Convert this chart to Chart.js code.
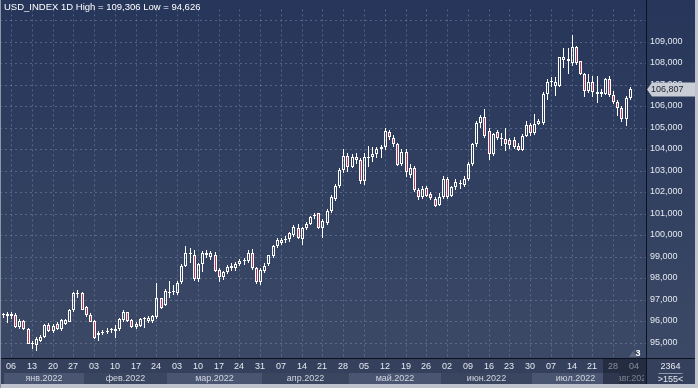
<!DOCTYPE html>
<html>
<head>
<meta charset="utf-8">
<script src="https://cdn.jsdelivr.net/npm/chart.js@4.4.1/dist/chart.umd.min.js"></script>
<style>
  html, body { margin: 0; padding: 0; background: #2f3c58; }
  #wrap { width: 698px; height: 388px; }
</style>
</head>
<body>
<div id="wrap"><canvas id="chart" width="698" height="388"></canvas></div>
<script>
// Trading days shown on the time axis (last three slots are still empty)
const dates = [
  '04.01', '05.01', '06.01', '07.01', '10.01', '11.01', '12.01', '13.01', '14.01', '17.01',
  '18.01', '19.01', '20.01', '21.01', '24.01', '25.01', '26.01', '27.01', '28.01', '31.01',
  '01.02', '02.02', '03.02', '04.02', '07.02', '08.02', '09.02', '10.02', '11.02', '14.02',
  '15.02', '16.02', '17.02', '18.02', '21.02', '22.02', '23.02', '24.02', '25.02', '28.02',
  '01.03', '02.03', '03.03', '04.03', '07.03', '08.03', '09.03', '10.03', '11.03', '14.03',
  '15.03', '16.03', '17.03', '18.03', '21.03', '22.03', '23.03', '24.03', '25.03', '28.03',
  '29.03', '30.03', '31.03',
  '01.04', '04.04', '05.04', '06.04', '07.04', '08.04', '11.04', '12.04', '13.04', '14.04',
  '15.04', '18.04', '19.04', '20.04', '21.04', '22.04', '25.04', '26.04', '27.04', '28.04', '29.04',
  '02.05', '03.05', '04.05', '05.05', '06.05', '09.05', '10.05', '11.05', '12.05', '13.05',
  '16.05', '17.05', '18.05', '19.05', '20.05', '23.05', '24.05', '25.05', '26.05', '27.05',
  '30.05', '31.05',
  '01.06', '02.06', '03.06', '06.06', '07.06', '08.06', '09.06', '10.06', '13.06', '14.06',
  '15.06', '16.06', '17.06', '20.06', '21.06', '22.06', '23.06', '24.06', '27.06', '28.06',
  '29.06', '30.06',
  '01.07', '04.07', '05.07', '06.07', '07.07', '08.07', '11.07', '12.07', '13.07', '14.07',
  '15.07', '18.07', '19.07', '20.07', '21.07', '22.07', '25.07', '26.07', '27.07', '28.07', '29.07',
  '01.08', '02.08', '03.08', '04.08', '05.08', '08.08'
]

const monthNames = ['янв.2022', 'фев.2022', 'мар.2022', 'апр.2022', 'май.2022', 'июн.2022', 'июл.2022', 'авг.2022']

const opens = [
  96.28, 96.24, 96.22, 96.31, 95.74, 96.00, 95.66, 94.97, 94.88, 95.10, 95.28, 95.81, 95.56, 95.86, 95.63, 95.86, 95.98, 96.51, 97.25, 97.29,
  96.64, 96.31, 96.00, 95.36, 95.45, 95.50, 95.58, 95.56, 95.66, 96.04, 96.42, 96.04, 95.71, 95.78, 96.08, 96.00, 96.00, 96.19, 97.06, 96.77,
  97.30, 97.35, 97.29, 97.82, 98.58, 99.18, 99.10, 97.97, 98.65, 99.10, 99.00, 99.10, 98.40, 98.05, 98.30, 98.45, 98.45, 98.65, 98.78, 98.80, 99.18, 98.45, 97.82,
  98.35, 98.65, 99.03, 99.48, 99.63, 99.78, 99.80, 100.00, 100.31, 99.81, 100.31, 100.54, 100.88, 101.02, 100.34, 100.57, 101.14, 101.70, 102.27, 103.03, 103.70,
  103.18, 103.63, 103.50, 102.50, 103.60, 103.63, 103.78, 104.00, 104.08, 104.80, 104.53, 104.26, 103.30, 103.85, 102.80, 103.10, 102.12, 101.77, 102.20, 101.89, 101.67, 101.41,
  101.77, 102.62, 101.82, 102.22, 102.40, 102.35, 102.62, 103.33, 104.24, 105.21, 105.50, 104.85, 103.78, 104.80, 104.48, 104.46, 104.42, 104.42, 104.16, 103.98, 104.61, 105.14,
  104.73, 105.18, 105.21, 106.57, 107.10, 106.95, 106.95, 108.15, 108.08, 108.00, 108.73, 108.08, 107.50, 106.72, 107.10, 106.57, 106.57, 106.57, 107.25, 106.50, 106.20,
  105.90, 105.40, 106.38
]

const highs = [
  96.40, 96.42, 96.45, 96.36, 96.10, 96.05, 95.70, 95.10, 95.25, 95.35, 95.85, 95.90, 95.85, 95.95, 96.10, 96.10, 96.55, 97.35, 97.45, 97.35,
  96.70, 96.40, 96.05, 95.55, 95.60, 95.70, 95.70, 95.80, 96.15, 96.50, 96.45, 96.10, 95.95, 96.15, 96.20, 96.25, 96.30, 97.79, 97.10, 97.50,
  97.85, 97.70, 97.85, 98.68, 99.48, 99.40, 99.30, 98.70, 99.25, 99.30, 99.25, 99.20, 98.45, 98.35, 98.60, 98.70, 98.75, 98.90, 98.95, 99.30, 99.35, 98.50, 98.45,
  98.70, 99.10, 99.55, 99.85, 99.85, 99.95, 100.15, 100.45, 100.50, 100.40, 100.60, 100.90, 101.05, 101.05, 100.75, 101.20, 101.85, 102.40, 103.10, 104.00, 103.80,
  103.75, 103.80, 103.60, 103.80, 104.16, 104.08, 104.10, 104.20, 104.99, 104.90, 104.65, 104.30, 104.00, 104.00, 103.30, 103.20, 102.20, 102.30, 102.30, 102.00, 101.75, 101.95,
  102.75, 102.70, 102.30, 102.60, 102.55, 102.75, 103.40, 104.30, 105.30, 105.60, 105.85, 105.00, 104.75, 104.90, 104.73, 104.99, 104.50, 104.55, 104.30, 104.70, 105.30, 105.20,
  105.64, 105.40, 106.65, 107.25, 107.33, 107.35, 108.30, 108.69, 108.70, 109.306, 108.80, 108.10, 107.55, 107.48, 107.40, 107.40, 106.80, 107.30, 107.40, 106.70, 106.30,
  106.00, 106.45, 106.90
]

const lows = [
  96.15, 95.93, 96.10, 95.68, 95.65, 95.60, 94.92, 94.70, 94.626, 95.05, 95.20, 95.50, 95.45, 95.60, 95.55, 95.80, 95.95, 96.45, 97.10, 96.50,
  96.20, 95.95, 95.15, 95.10, 95.35, 95.40, 95.45, 95.20, 95.55, 95.95, 95.95, 95.70, 95.65, 95.75, 95.70, 95.90, 95.90, 96.10, 96.55, 96.70,
  97.10, 97.20, 97.20, 97.75, 98.50, 98.70, 97.85, 97.82, 98.30, 98.95, 98.85, 98.30, 97.82, 97.90, 98.20, 98.35, 98.35, 98.55, 98.60, 98.70, 98.40, 97.75, 97.70,
  98.25, 98.55, 98.95, 99.40, 99.55, 99.65, 99.70, 99.90, 99.80, 99.55, 100.25, 100.45, 100.75, 100.30, 99.86, 100.45, 101.05, 101.60, 102.20, 102.90, 102.95,
  103.10, 103.30, 102.40, 102.35, 103.18, 103.40, 103.60, 103.60, 103.95, 104.40, 104.10, 103.20, 103.20, 102.70, 102.65, 102.00, 101.65, 101.70, 101.75, 101.65, 101.30, 101.35,
  101.70, 101.70, 101.75, 102.10, 102.15, 102.25, 102.50, 103.20, 104.10, 105.00, 104.50, 103.50, 103.70, 104.40, 104.16, 103.93, 104.00, 104.00, 103.90, 103.90, 104.55, 104.60,
  104.65, 105.10, 105.10, 106.27, 106.87, 106.45, 106.90, 107.78, 107.48, 107.86, 107.90, 107.45, 106.42, 106.60, 106.42, 106.12, 106.42, 106.50, 106.40, 106.10, 105.52,
  105.24, 105.06, 106.30
]

const closes = [
  96.30, 96.32, 96.33, 95.71, 96.01, 95.63, 94.95, 94.93, 95.18, 95.28, 95.81, 95.56, 95.77, 95.66, 96.04, 96.04, 96.51, 97.29, 97.29, 96.54,
  96.28, 95.98, 95.23, 95.45, 95.50, 95.56, 95.62, 95.66, 96.09, 96.42, 96.00, 95.74, 95.86, 96.10, 96.12, 96.13, 96.24, 97.06, 96.61, 97.40,
  97.35, 97.40, 97.77, 98.58, 99.18, 99.12, 97.97, 98.65, 99.15, 99.15, 99.18, 98.35, 98.05, 98.27, 98.50, 98.55, 98.65, 98.80, 98.82, 99.18, 98.45, 97.82, 98.40,
  98.58, 99.06, 99.51, 99.78, 99.78, 99.80, 100.08, 100.39, 99.86, 100.34, 100.54, 100.84, 100.91, 100.34, 100.64, 101.14, 101.75, 102.30, 103.03, 103.70, 103.18,
  103.63, 103.48, 102.50, 103.63, 103.65, 103.78, 104.00, 104.08, 104.84, 104.58, 104.24, 103.28, 103.85, 102.95, 103.12, 102.08, 101.77, 102.15, 101.82, 101.71, 101.36, 101.77,
  102.62, 101.77, 102.22, 102.47, 102.44, 102.62, 103.33, 104.24, 105.21, 105.50, 104.60, 103.78, 104.69, 104.53, 104.45, 104.24, 104.19, 104.11, 103.98, 104.61, 105.14, 104.76,
  105.17, 105.29, 106.57, 107.13, 107.15, 107.13, 108.26, 108.26, 108.19, 108.73, 108.00, 107.50, 106.72, 107.10, 106.65, 106.65, 106.65, 107.25, 106.50, 106.20, 105.90,
  105.40, 106.38, 106.807
]

const COLORS = {
  bgTop: '#26365a',
  bgBottom: '#3c4966',
  grid: 'rgba(135, 150, 180, 0.45)',
  axisLine: '#0c111d',
  text: '#e4e8f0',
  candleUp: 'rgba(0, 0, 0, 0)',
  candleDown: '#b8385c',
  candleEdge: '#ffffff',
  strip: '#35415c',
  monthLight: '#4a5571',
  monthDark: '#3a4560',
  shade: 'rgba(14, 20, 34, 0.45)',
  frame: '#bfc4ce',
  tag: '#c9cdd5',
  tagText: '#1b2030'
}
const FONT = "'Liberation Sans', Arial, sans-serif"

// slot 0 sits just inside the left edge, 155 slots fill the plot
const X_MIN = -0.65
const X_MAX = 154.9
const Y_MIN = 94.289
const Y_MAX = 110.494
const SHADE_FROM = '26.07'

const dayOf = (label) => parseInt(label.slice(0, 2), 10)
const monthOf = (label) => parseInt(label.slice(3, 5), 10) - 1
const isThursday = (label) => new Date(2022, monthOf(label), dayOf(label)).getDay() === 4
const tickIdx = dates.map((d, i) => (isThursday(d) ? i : -1)).filter(i => i >= 0)
const isUp = (i) => closes[i] >= opens[i]
const fmt = (v, digits) => v.toFixed(digits).replace('.', ',')

const bodies = opens.map((o, i) => ({ x: i, y: [Math.min(o, closes[i]), Math.max(o, closes[i])] }))
const upperWicks = highs.map((h, i) => ({ x: i, y: [Math.max(opens[i], closes[i]), h] }))
const lowerWicks = lows.map((l, i) => ({ x: i, y: [l, Math.min(opens[i], closes[i])] }))

/**
 * Paints the backgrounds: plot gradient, time strip and month boxes.
 * Candles are shifted half a pixel so that the 1px wicks land on whole pixels.
 */
const backdrop = {
  id: 'backdrop',
  beforeDraw (chart) {
    const { ctx, chartArea: area, width, height } = chart
    const xs = chart.scales.x
    ctx.save()
    const grad = ctx.createLinearGradient(0, 0, 0, area.bottom)
    grad.addColorStop(0, COLORS.bgTop)
    grad.addColorStop(1, COLORS.bgBottom)
    ctx.fillStyle = grad
    ctx.fillRect(0, 0, width, area.bottom)
    ctx.fillStyle = COLORS.strip
    ctx.fillRect(0, area.bottom, width, height - area.bottom)

    const rowTop = area.bottom + 15
    const rowH = 11
    monthNames.forEach((name, m) => {
      const idx = dates.map((d, i) => (monthOf(d) === m ? i : -1)).filter(i => i >= 0)
      if (!idx.length) return
      const x1 = Math.max(4, xs.getPixelForValue(idx[0] - 0.5))
      const x2 = Math.min(area.right, xs.getPixelForValue(idx[idx.length - 1] + 0.5))
      ctx.fillStyle = m % 2 === 0 ? COLORS.monthLight : COLORS.monthDark
      ctx.fillRect(x1, rowTop, x2 - x1, rowH)
      ctx.save()
      ctx.beginPath()
      ctx.rect(x1, rowTop, x2 - x1, rowH)
      ctx.clip()
      ctx.fillStyle = '#d2d7e1'
      ctx.font = `9px ${FONT}`
      ctx.textAlign = 'center'
      ctx.textBaseline = 'middle'
      const cx = m === monthNames.length - 1 ? xs.getPixelForValue(idx[0] + 3) : (x1 + x2) / 2
      ctx.fillText(name, cx, rowTop + rowH / 2 + 0.5)
      ctx.restore()
    })
    ctx.restore()
  },
  beforeDatasetsDraw (chart) {
    chart.ctx.save()
    chart.ctx.translate(0.5, 0)
  },
  afterDatasetsDraw (chart) {
    chart.ctx.restore()
  },
  afterDraw (chart) {
    const { ctx, chartArea: area, width, height } = chart
    const xs = chart.scales.x
    const ys = chart.scales.y
    ctx.save()

    // darker band over the latest part of the time strip
    const sx = xs.getPixelForValue(dates.indexOf(SHADE_FROM) - 0.5)
    ctx.fillStyle = COLORS.shade
    ctx.fillRect(sx, area.bottom + 1, area.right - sx, height - area.bottom - 5)

    // axis frame lines
    ctx.fillStyle = COLORS.axisLine
    ctx.fillRect(0, area.bottom, width, 1)
    ctx.fillRect(area.right, 0, 1, height)

    // outer frame
    ctx.fillStyle = COLORS.frame
    ctx.fillRect(0, height - 4, width, 4)
    ctx.fillRect(width - 3, 0, 3, height)
    ctx.fillStyle = '#8d96a8'
    ctx.fillRect(0, 0, 1, height)

    // title
    ctx.fillStyle = '#ffffff'
    ctx.font = `9.5px ${FONT}`
    ctx.textAlign = 'left'
    ctx.textBaseline = 'middle'
    ctx.fillText(`USD_INDEX 1D High = ${fmt(Math.max(...highs), 3)} Low = ${fmt(Math.min(...lows), 3)}`, 4, 7.5)

    // last price tag
    const last = closes[closes.length - 1]
    const py = Math.round(ys.getPixelForValue(last)) + 0.5
    ctx.fillStyle = COLORS.tag
    ctx.beginPath()
    ctx.moveTo(area.right + 1, py)
    ctx.lineTo(area.right + 6, py - 7)
    ctx.lineTo(width - 3, py - 7)
    ctx.lineTo(width - 3, py + 7)
    ctx.lineTo(area.right + 6, py + 7)
    ctx.closePath()
    ctx.fill()
    ctx.fillStyle = COLORS.tagText
    ctx.font = `9px ${FONT}`
    ctx.fillText(fmt(last, 3), area.right + 5, py + 0.5)

    // scroll marker
    ctx.fillStyle = '#5d6880'
    ctx.beginPath()
    ctx.moveTo(area.right - 13, area.bottom - 7)
    ctx.lineTo(area.right - 17, area.bottom - 1)
    ctx.lineTo(area.right - 9, area.bottom - 1)
    ctx.closePath()
    ctx.fill()
    ctx.fillStyle = '#ffffff'
    ctx.font = `bold 9px ${FONT}`
    ctx.textAlign = 'center'
    ctx.fillText('3', area.right - 8, area.bottom - 4)

    // corner counters
    const cx = (area.right + width - 3) / 2
    ctx.font = `9px ${FONT}`
    ctx.fillStyle = COLORS.text
    ctx.fillText('2364', cx, area.bottom + 9)
    ctx.fillText('>155<', cx, area.bottom + 22)
    ctx.fillStyle = '#8c96aa'
    ctx.fillRect(cx - 12, area.bottom + 15, 24, 1)
    ctx.restore()
  }
}

const common = {
  type: 'bar',
  grouped: false,
  borderSkipped: false,
  inflateAmount: 0,
  minBarLength: 1
}

new Chart(document.getElementById('chart'), {
  type: 'bar',
  data: {
    datasets: [
      {
        ...common,
        label: 'body',
        order: 0,
        data: bodies,
        barThickness: 3,
        borderWidth: 1,
        borderColor: COLORS.candleEdge,
        backgroundColor: (ctx) => (isUp(ctx.dataIndex) ? COLORS.candleUp : COLORS.candleDown)
      },
      {
        ...common,
        label: 'upper',
        order: 1,
        data: upperWicks,
        barThickness: 1,
        borderWidth: 0,
        minBarLength: 0,
        backgroundColor: COLORS.candleEdge
      },
      {
        ...common,
        label: 'lower',
        order: 1,
        data: lowerWicks,
        barThickness: 1,
        borderWidth: 0,
        minBarLength: 0,
        backgroundColor: COLORS.candleEdge
      }
    ]
  },
  options: {
    responsive: false,
    animation: false,
    devicePixelRatio: 1,
    events: [],
    layout: { padding: 0 },
    plugins: {
      legend: { display: false },
      tooltip: { enabled: false }
    },
    scales: {
      x: {
        type: 'linear',
        min: X_MIN,
        max: X_MAX,
        offset: false,
        alignToPixels: true,
        afterFit: (scale) => { scale.height = 30 },
        afterBuildTicks: (scale) => { scale.ticks = tickIdx.map(v => ({ value: v })) },
        grid: { offset: false, drawTicks: false, color: COLORS.grid, lineWidth: 1 },
        border: { display: false, dash: [2, 3] },
        ticks: {
          autoSkip: false,
          maxRotation: 0,
          padding: 3,
          color: COLORS.text,
          font: { family: FONT, size: 9 },
          callback: (value) => dates[value] ? dates[value].slice(0, 2) : ''
        }
      },
      y: {
        position: 'right',
        min: Y_MIN,
        max: Y_MAX,
        alignToPixels: true,
        afterFit: (scale) => { scale.width = 52 },
        grid: { drawTicks: false, color: COLORS.grid, lineWidth: 1 },
        border: { display: false, dash: [2, 3] },
        ticks: {
          stepSize: 1,
          includeBounds: false,
          padding: 4,
          color: COLORS.text,
          font: { family: FONT, size: 9 },
          callback: (value) => (value >= 95 && value <= 109 ? fmt(value, 3) : '')
        }
      }
    }
  },
  plugins: [backdrop]
})
</script>
</body>
</html>
